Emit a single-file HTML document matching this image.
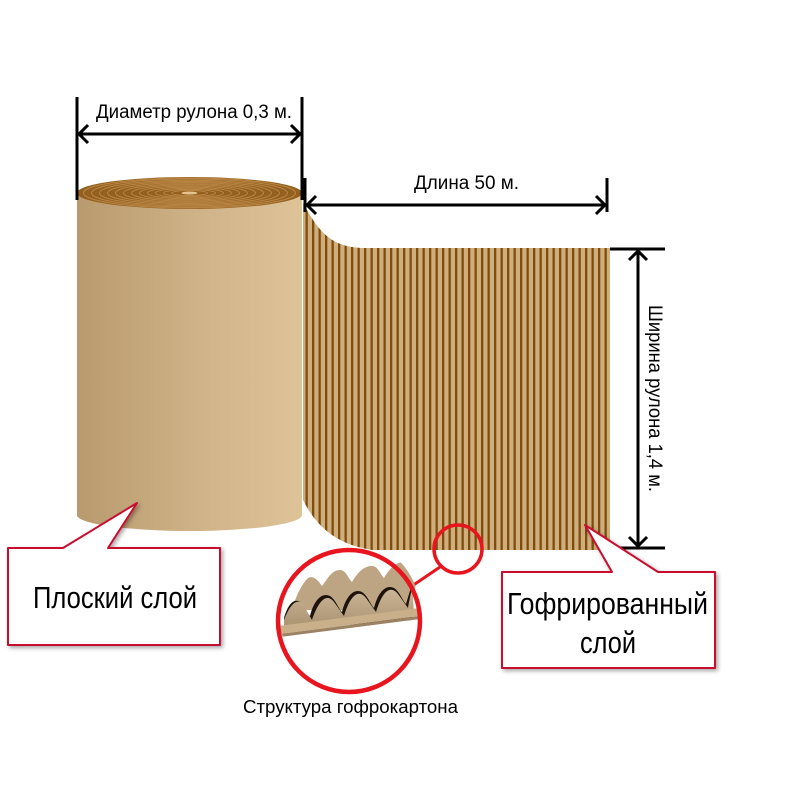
<!DOCTYPE html>
<html><head><meta charset="utf-8"><style>
html,body{margin:0;padding:0;background:#fff;width:800px;height:800px;overflow:hidden}
text{font-family:"Liberation Sans",sans-serif}
</style></head><body>
<svg width="800" height="800" viewBox="0 0 800 800" xmlns="http://www.w3.org/2000/svg">
<defs>
<linearGradient id="body" x1="0" x2="1" y1="0" y2="0">
<stop offset="0" stop-color="#b99a6f"/><stop offset="0.6" stop-color="#d2b58a"/><stop offset="1" stop-color="#dfc398"/>
</linearGradient>
<pattern id="stripes" x="0" y="0" width="6.5" height="10" patternUnits="userSpaceOnUse">
<rect width="6.5" height="10" fill="#cfae7c"/><rect x="0" width="2.3" height="10" fill="#7d4c0e"/>
</pattern>
<filter id="sh" x="-10%" y="-10%" width="130%" height="130%"><feDropShadow dx="2" dy="2" stdDeviation="2" flood-color="#000" flood-opacity="0.35"/></filter>
<linearGradient id="cw" x1="0" y1="0" x2="0" y2="1"><stop offset="0" stop-color="#cdb899"/><stop offset="1" stop-color="#a68e6c"/></linearGradient>
<clipPath id="cc"><circle cx="349" cy="621" r="71"/></clipPath>
</defs>

<path d="M303,203 C318,230 330,248 365,248 L610,248 L610,550 L372,550 C340,545 318,530 303,500 Z" fill="url(#stripes)"/>

<path d="M77,193 L77,515 A112.5,16 0 0 0 302,515 L302,193 Z" fill="url(#body)"/>
<ellipse cx="189.5" cy="193" rx="112.5" ry="16" fill="#93601f"/>
<g fill="none" stroke="#b98544" stroke-width="1">
<ellipse cx="189.5" cy="193" rx="106" ry="15"/><ellipse cx="189.5" cy="193" rx="98" ry="14"/>
<ellipse cx="189.5" cy="193" rx="90" ry="12.8"/><ellipse cx="189.5" cy="193" rx="82" ry="11.6"/>
<ellipse cx="189.5" cy="193" rx="74" ry="10.5"/><ellipse cx="189.5" cy="193" rx="66" ry="9.3"/>
<ellipse cx="189.5" cy="193" rx="58" ry="8.2"/><ellipse cx="189.5" cy="193" rx="50" ry="7"/>
<ellipse cx="189.5" cy="193" rx="42" ry="5.9"/><ellipse cx="189.5" cy="193" rx="34" ry="4.8"/>
<ellipse cx="189.5" cy="193" rx="26" ry="3.6"/><ellipse cx="189.5" cy="193" rx="18" ry="2.5"/>
</g>
<ellipse cx="189.5" cy="193" rx="8" ry="1.5" fill="#e6c48e"/>

<g stroke="#000" stroke-width="3" fill="none">
<line x1="77" y1="97" x2="77" y2="200"/><line x1="302" y1="97" x2="302" y2="200"/>
<line x1="79" y1="134" x2="300" y2="134"/>
<polyline points="88,125 79,134 88,143"/><polyline points="291,125 300,134 291,143"/>
<line x1="305" y1="178" x2="305" y2="212"/><line x1="607" y1="178" x2="607" y2="212"/>
<line x1="307" y1="205" x2="605" y2="205"/>
<polyline points="316,196 307,205 316,214"/><polyline points="596,196 605,205 596,214"/>
<line x1="610" y1="249" x2="665" y2="249"/><line x1="610" y1="548" x2="665" y2="548"/>
<line x1="638" y1="251" x2="638" y2="546"/>
<polyline points="629,260 638,251 647,260"/><polyline points="629,537 638,546 647,537"/>
</g>
<text x="96" y="118" font-size="19" textLength="196" lengthAdjust="spacingAndGlyphs" fill="#000">Диаметр рулона 0,3 м.</text>
<text x="414" y="189" font-size="19" textLength="105" lengthAdjust="spacingAndGlyphs" fill="#000">Длина 50 м.</text>
<text transform="translate(649,305) rotate(90)" font-size="19" textLength="187" lengthAdjust="spacingAndGlyphs" fill="#000">Ширина рулона 1,4 м.</text>

<path d="M8,548 L63,548 L137,503 L108,548 L220,548 L220,645 L8,645 Z" fill="#fff" stroke="#c8102e" stroke-width="2" stroke-linejoin="round" filter="url(#sh)"/>
<text x="33" y="608" font-size="31" textLength="164" lengthAdjust="spacingAndGlyphs" fill="#000">Плоский слой</text>

<path d="M502,572 L612,572 L585,525 L658,572 L715,572 L715,668 L502,668 Z" fill="#fff" stroke="#c8102e" stroke-width="2" stroke-linejoin="round" filter="url(#sh)"/>
<text x="507" y="614" font-size="31" textLength="201" lengthAdjust="spacingAndGlyphs" fill="#000">Гофрированный</text>
<text x="580" y="653" font-size="31" textLength="56" lengthAdjust="spacingAndGlyphs" fill="#000">слой</text>

<line x1="440" y1="567" x2="412" y2="586" stroke="#e8141e" stroke-width="3"/>
<circle cx="458" cy="549" r="24" fill="none" stroke="#e8141e" stroke-width="3.5"/>
<circle cx="349" cy="621" r="71" fill="#fff"/>
<g clip-path="url(#cc)" transform="translate(0,-10)">
<path d="M292,620 C296,606 300,598 306,590 C312,583 318,590 322,596 C328,588 332,580 340,580 C346,580 348,588 352,592 C358,582 364,576 372,576 C378,576 380,584 384,588 C390,578 396,572 404,572 C412,572 414,580 418,586 L410,620 Z" fill="#bda583"/>
<path d="M284,628 C288,614 294,608 300,612 C304,616 306,622 310,626 C314,610 322,602 330,606 C336,610 338,618 342,622 C346,606 354,598 362,602 C368,606 370,614 374,618 C378,602 386,594 394,598 C400,602 402,610 406,614 L412,594 L412,630 L284,640 Z" fill="#1e130c"/>
<path d="M284,630 C290,614 298,606 304,616 L312,630 C318,612 326,602 334,612 L344,626 C350,606 358,598 366,608 L376,622 C382,602 390,594 398,604 L408,618 C410,606 412,600 412,596 L414,622 L284,642 Z" fill="url(#cw)"/>
<path d="M278,636 L420,618 L420,626 L280,644 Z" fill="#c9b08b"/>
<path d="M280,644 L420,626 L420,629 L280,647 Z" fill="#9a8262"/>
</g>
<circle cx="349" cy="621" r="71" fill="none" stroke="#e8141e" stroke-width="4.5"/>
<text x="243" y="713" font-size="18" textLength="215" lengthAdjust="spacingAndGlyphs" fill="#000">Структура гофрокартона</text>
</svg>
</body></html>
